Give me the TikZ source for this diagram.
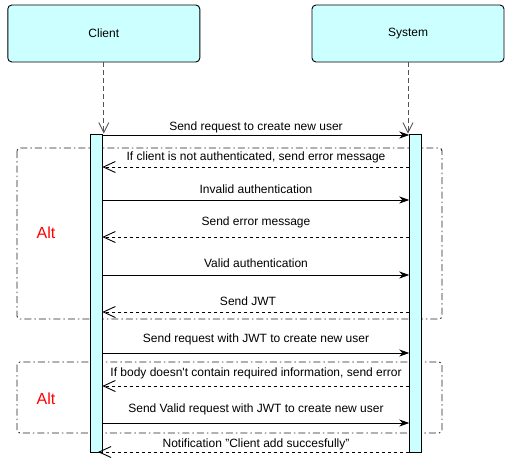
\documentclass[tikz,border=0pt]{standalone}
\usepackage{fontspec}
\setmainfont{Liberation Sans}
\usetikzlibrary{arrows.meta}
\definecolor{cyanbg}{HTML}{CCFFFF}
\definecolor{lifegray}{HTML}{555555}
\definecolor{framegray}{HTML}{222222}
\definecolor{altred}{HTML}{FF0000}
\begin{document}
\begin{tikzpicture}[x=1pt,y=-1pt,
  actor/.style={draw=black, line width=0.9pt, fill=cyanbg, rounded corners=4pt,
    minimum width=192pt, minimum height=57pt, inner sep=0pt,
    font=\fontsize{12}{14}\selectfont},
  actbar/.style={draw=black, line width=0.9pt, fill=cyanbg, minimum width=12pt,
    minimum height=318pt, inner sep=0pt},
  life/.style={draw=lifegray, line width=0.9pt, dash pattern=on 5pt off 3pt,
    -{Straight Barb[length=10pt,width=10pt]}},
  callmsg/.style={draw=black, line width=0.9pt,
    -{Stealth[length=10pt,width=7pt,inset=3pt]}},
  replymsg/.style={draw=black, line width=0.9pt, dash pattern=on 3.5pt off 2.5pt,
    -{Straight Barb[length=12pt,width=11pt]}},
  lbl/.style={inner sep=0pt, font=\fontsize{12}{14}\selectfont},
  altframe/.style={draw=framegray, line width=0.9pt, rounded corners=3pt,
    dash pattern=on 7pt off 3pt on 1.5pt off 3pt},
  altlbl/.style={inner sep=0pt, text=altred, font=\fontsize{16}{18}\selectfont}
]
\useasboundingbox (0,0) rectangle (513,467);

% alt frames (behind the bars)
\draw[altframe] (17,148) rectangle (442,319);
\draw[altframe] (17,362) rectangle (442,433);
\node[altlbl] (alt1) at (46,233) {Alt};
\node[altlbl] (alt2) at (46,399) {Alt};

% actors
\node[actor] (client) at (103.8,33.5) {Client};
\node[actor] (system) at (408,33.5) {System};

% activation bars
\node[actbar] (cbar) at (96.3,293) {};
\node[actbar] (sbar) at (415.3,293) {};

% lifelines
\coordinate (clend) at (client.south |- cbar.north);
\coordinate (slend) at (system.south |- sbar.north);
\draw[life] (client.south) -- (clend);
\draw[life] (system.south) -- (slend);

% message end points
\coordinate (c1) at (102.3,135); \coordinate (s1) at (409.3,135);
\coordinate (c2) at (102.3,167); \coordinate (s2) at (409.3,167);
\coordinate (c3) at (102.3,200); \coordinate (s3) at (409.3,200);
\coordinate (c4) at (102.3,237); \coordinate (s4) at (409.3,237);
\coordinate (c5) at (102.3,275); \coordinate (s5) at (409.3,275);
\coordinate (c6) at (102.3,312); \coordinate (s6) at (409.3,312);
\coordinate (c7) at (102.3,353); \coordinate (s7) at (409.3,353);
\coordinate (c8) at (102.3,386); \coordinate (s8) at (409.3,386);
\coordinate (c9) at (102.3,423); \coordinate (s9) at (409.3,423);
\coordinate (c10) at (98,452);   \coordinate (s10) at (409.3,452);

% messages
\draw[callmsg] (c1) -- (s1);
\node[lbl] (l1) at (256,127) {Send request to create new user};
\draw[replymsg] (s2) -- (c2);
\node[lbl] (l2) at (256,157) {If client is not authenticated, send error message};
\draw[callmsg] (c3) -- (s3);
\node[lbl] (l3) at (256,189) {Invalid authentication};
\draw[replymsg] (s4) -- (c4);
\node[lbl] (l4) at (256,222) {Send error message};
\draw[callmsg] (c5) -- (s5);
\node[lbl] (l5) at (256,263) {Valid authentication};
\draw[replymsg] (s6) -- (c6);
\node[lbl] (l6) at (248,301) {Send JWT};
\draw[callmsg] (c7) -- (s7);
\node[lbl] (l7) at (256,339) {Send request with JWT to create new user};
\draw[replymsg] (s8) -- (c8);
\node[lbl] (l8) at (256,373) {If body doesn\textquotesingle t contain required information, send error};
\draw[callmsg] (c9) -- (s9);
\node[lbl] (l9) at (256,409) {Send Valid request with JWT to create new user};
\draw[replymsg] (s10) -- (c10);
\node[lbl] (l10) at (256,444) {Notification "Client add succesfully"};
\end{tikzpicture}
\end{document}
